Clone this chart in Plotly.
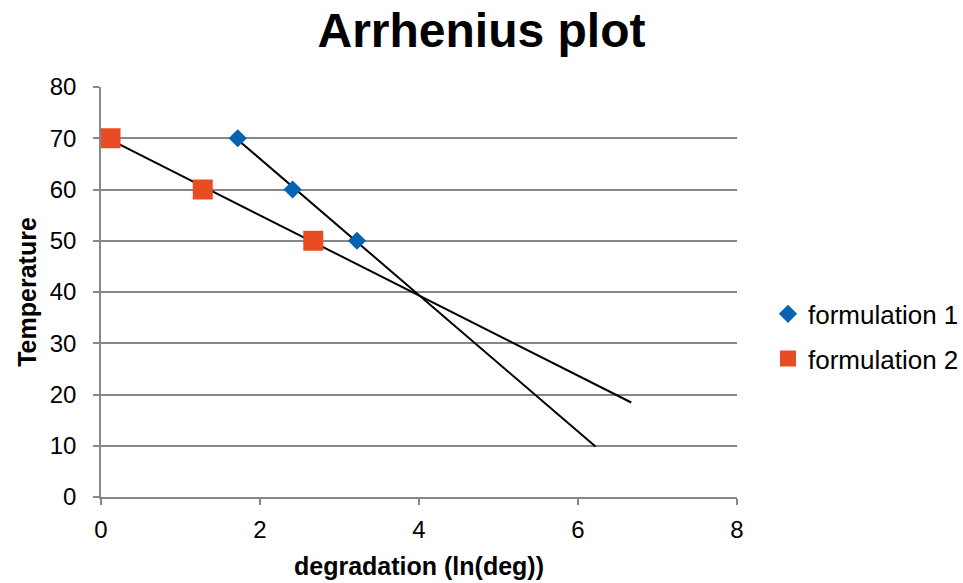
import numpy as np
import plotly.graph_objects as go

# Degradation (ln) measured at each storage temperature
temps = [70, 60, 50]
f1_lndeg = [1.72, 2.41, 3.22]
f2_lndeg = [0.12, 1.28, 2.67]

# Linear trendline forecast distance beyond the last point
f1_forward = 3.0
f2_forward = 4.0

series_names = ["formulation 1", "formulation 2"]
x_ticks = [0, 2, 4, 6, 8]
y_ticks = [0, 10, 20, 30, 40, 50, 60, 70, 80]

FONT = "Liberation Sans, Arial, sans-serif"


def trend(xs, ys, forward):
    slope, intercept = np.polyfit(xs, ys, 1)
    x0, x1 = min(xs), max(xs) + forward
    return [x0, x1], [slope * x0 + intercept, slope * x1 + intercept]


fig = go.Figure()

for xs, fwd in ((f1_lndeg, f1_forward), (f2_lndeg, f2_forward)):
    tx, ty = trend(xs, temps, fwd)
    fig.add_trace(go.Scatter(x=tx, y=ty, mode="lines", showlegend=False,
                             line=dict(color="black", width=2), hoverinfo="skip"))

fig.add_trace(go.Scatter(x=f1_lndeg, y=temps, mode="markers", name=series_names[0],
                         legendgroup="a",
                         marker=dict(symbol="diamond", size=14, color="#0563B4")))
fig.add_trace(go.Scatter(x=f2_lndeg, y=temps, mode="markers", name=series_names[1],
                         legendgroup="b",
                         marker=dict(symbol="square", size=20, color="#E84C22")))

axis_common = dict(
    showline=True, linecolor="#878787", linewidth=1.5,
    ticks="outside", ticklen=6, tickcolor="#878787", tickwidth=1.5,
    tickfont=dict(family=FONT, size=24, color="black"),
    zeroline=False,
)

fig.update_xaxes(range=[0, 8], tickvals=x_ticks, showgrid=False,
                 ticklabelstandoff=4,
                 title=dict(text="<b>degradation (ln(deg))</b>",
                            font=dict(family=FONT, size=25, color="black"), standoff=16),
                 **axis_common)
fig.update_yaxes(range=[0, 80], tickvals=y_ticks, showgrid=True,
                 gridcolor="#878787", gridwidth=1.5,
                 ticklabelstandoff=12,
                 title=dict(text="<b>Temperature</b>",
                            font=dict(family=FONT, size=25, color="black"), standoff=6),
                 **axis_common)

fig.update_layout(
    width=963, height=583,
    margin=dict(l=101, r=226, t=87, b=86, autoexpand=False),
    paper_bgcolor="white", plot_bgcolor="white",
    title=dict(text="<b>Arrhenius plot</b>", x=0.5, xanchor="center",
               y=0.948, yanchor="middle",
               font=dict(family=FONT, size=48, color="black")),
    legend=dict(xref="container", yref="container",
                x=0.7975, y=0.423, xanchor="left", yanchor="middle",
                font=dict(family=FONT, size=26, color="black"),
                traceorder="grouped", tracegroupgap=8,
                itemwidth=30, bgcolor="rgba(0,0,0,0)"),
    showlegend=True,
)

fig.write_html("out.html")
